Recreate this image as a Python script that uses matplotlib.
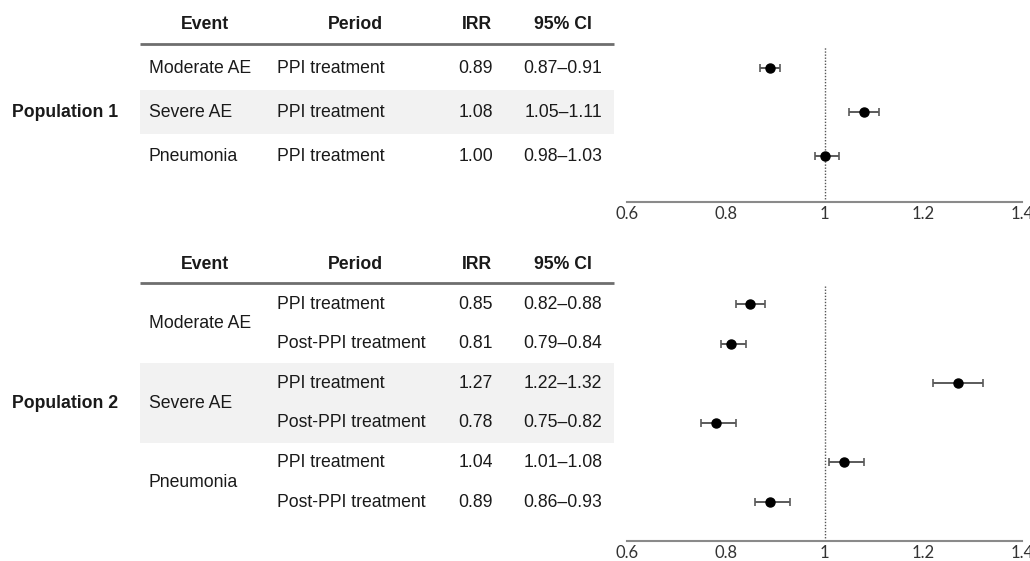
import matplotlib
matplotlib.use("Agg")
import matplotlib.pyplot as plt
from matplotlib.patches import Rectangle

# ---------------- data ----------------
headers = ["Event", "Period", "IRR", "95% CI"]

pop1_label = "Population 1"
pop1_events = ["Moderate AE", "Severe AE", "Pneumonia"]
pop1_periods = ["PPI treatment", "PPI treatment", "PPI treatment"]
pop1_irr = [0.89, 1.08, 1.00]
pop1_lo = [0.87, 1.05, 0.98]
pop1_hi = [0.91, 1.11, 1.03]

pop2_label = "Population 2"
pop2_events = ["Moderate AE", "Severe AE", "Pneumonia"]
pop2_periods = ["PPI treatment", "Post-PPI treatment",
                "PPI treatment", "Post-PPI treatment",
                "PPI treatment", "Post-PPI treatment"]
pop2_irr = [0.85, 0.81, 1.27, 0.78, 1.04, 0.89]
pop2_lo = [0.82, 0.79, 1.22, 0.75, 1.01, 0.86]
pop2_hi = [0.88, 0.84, 1.32, 0.82, 1.08, 0.93]

xticks = [0.6, 0.8, 1.0, 1.2, 1.4]
xticklabels = ["0.6", "0.8", "1", "1.2", "1.4"]

# ---------------- layout ----------------
W, H = 1030, 561
DPI = 100
fig = plt.figure(figsize=(W / DPI, H / DPI), dpi=DPI)
fig.patch.set_facecolor("white")

# full-figure axes in pixel coordinates for the table
tab = fig.add_axes([0, 0, 1, 1])
tab.set_xlim(0, W)
tab.set_ylim(H, 0)
tab.axis("off")

TXT = "#1a1a1a"
FONT = ["Liberation Sans", "DejaVu Sans"]
FS = 12.7

col_event_hdr = 205
col_period_hdr = 355
col_irr_hdr = 477
col_ci = 563
col_event = 149
col_period = 277
col_irr_right = 493
tab_left, tab_right = 140, 614
pop_x = 12

ax_left_px, ax_right_px = 627, 1022


def draw_block(hdr_y, line_y, row_y0, spacing, events, periods, irr, lo, hi,
               per_event, band_event, pop_label, axis_y, top_y):
    n = len(periods)
    rows = [row_y0 + i * spacing for i in range(n)]
    # shaded band
    b0 = band_event * per_event
    by0 = rows[b0] - spacing / 2
    by1 = rows[b0 + per_event - 1] + spacing / 2
    tab.add_patch(Rectangle((tab_left, by0), tab_right - tab_left, by1 - by0,
                            facecolor="#f2f2f2", edgecolor="none", zorder=0))
    # header
    for txt, x in zip(headers, [col_event_hdr, col_period_hdr, col_irr_hdr, col_ci]):
        tab.text(x, hdr_y, txt, ha="center", va="center", fontsize=FS,
                 fontweight="bold", color=TXT, family=FONT)
    tab.plot([tab_left, tab_right], [line_y, line_y], color="#6e6e6e", lw=2,
             solid_capstyle="butt")
    # events
    for k, ev in enumerate(events):
        ys = rows[k * per_event:(k + 1) * per_event]
        tab.text(col_event, sum(ys) / len(ys), ev, ha="left", va="center",
                 fontsize=FS, color=TXT, family=FONT)
    for i in range(n):
        tab.text(col_period, rows[i], periods[i], ha="left", va="center",
                 fontsize=FS, color=TXT, family=FONT)
        tab.text(col_irr_right, rows[i], f"{irr[i]:.2f}", ha="right",
                 va="center", fontsize=FS, color=TXT, family=FONT)
        tab.text(col_ci, rows[i], f"{lo[i]:.2f}\u2013{hi[i]:.2f}", ha="center",
                 va="center", fontsize=FS, color=TXT, family=FONT)
    tab.text(pop_x, (rows[0] + rows[-1]) / 2, pop_label, ha="left",
             va="center", fontsize=FS, fontweight="bold", color=TXT, family=FONT)

    # forest axes: rows are indices 0..n-1
    y_top = (top_y - row_y0) / spacing
    y_bot = (axis_y - row_y0) / spacing
    ax = fig.add_axes([ax_left_px / W, 1 - axis_y / H,
                       (ax_right_px - ax_left_px) / W, (axis_y - top_y) / H])
    ax.set_facecolor("none")
    ax.set_xlim(0.6, 1.4)
    ax.set_ylim(y_bot, y_top)
    idx = list(range(n))
    xerr = [[irr[i] - lo[i] for i in idx], [hi[i] - irr[i] for i in idx]]
    ax.errorbar(irr, idx, xerr=xerr, fmt="none", ecolor="#5a5a5a",
                elinewidth=1.4, capsize=3.2, capthick=1.2, zorder=2)
    ax.plot(irr, idx, "o", color="black", markersize=6.5, zorder=3)
    ax.axvline(1.0, color="#555555", lw=1.0, ls=(0, (1, 1.2)), zorder=1)
    for s in ["top", "right", "left"]:
        ax.spines[s].set_visible(False)
    ax.spines["bottom"].set_color("#8a8a8a")
    ax.spines["bottom"].set_linewidth(1.5)
    ax.set_yticks([])
    ax.set_xticks(xticks)
    ax.set_xticklabels(xticklabels, family=["Lato", "DejaVu Sans"],
                       fontsize=12, color="#333333")
    ax.tick_params(axis="x", length=0, pad=3)
    for lab in ax.get_xticklabels():
        lab.set_clip_on(False)
    return ax


draw_block(hdr_y=24, line_y=44, row_y0=68, spacing=44,
           events=pop1_events, periods=pop1_periods, irr=pop1_irr,
           lo=pop1_lo, hi=pop1_hi, per_event=1, band_event=1,
           pop_label=pop1_label, axis_y=202, top_y=47)

draw_block(hdr_y=264, line_y=283, row_y0=304, spacing=39.6,
           events=pop2_events, periods=pop2_periods, irr=pop2_irr,
           lo=pop2_lo, hi=pop2_hi, per_event=2, band_event=1,
           pop_label=pop2_label, axis_y=541, top_y=285)

fig.savefig("out.png", dpi=DPI, facecolor="white")
